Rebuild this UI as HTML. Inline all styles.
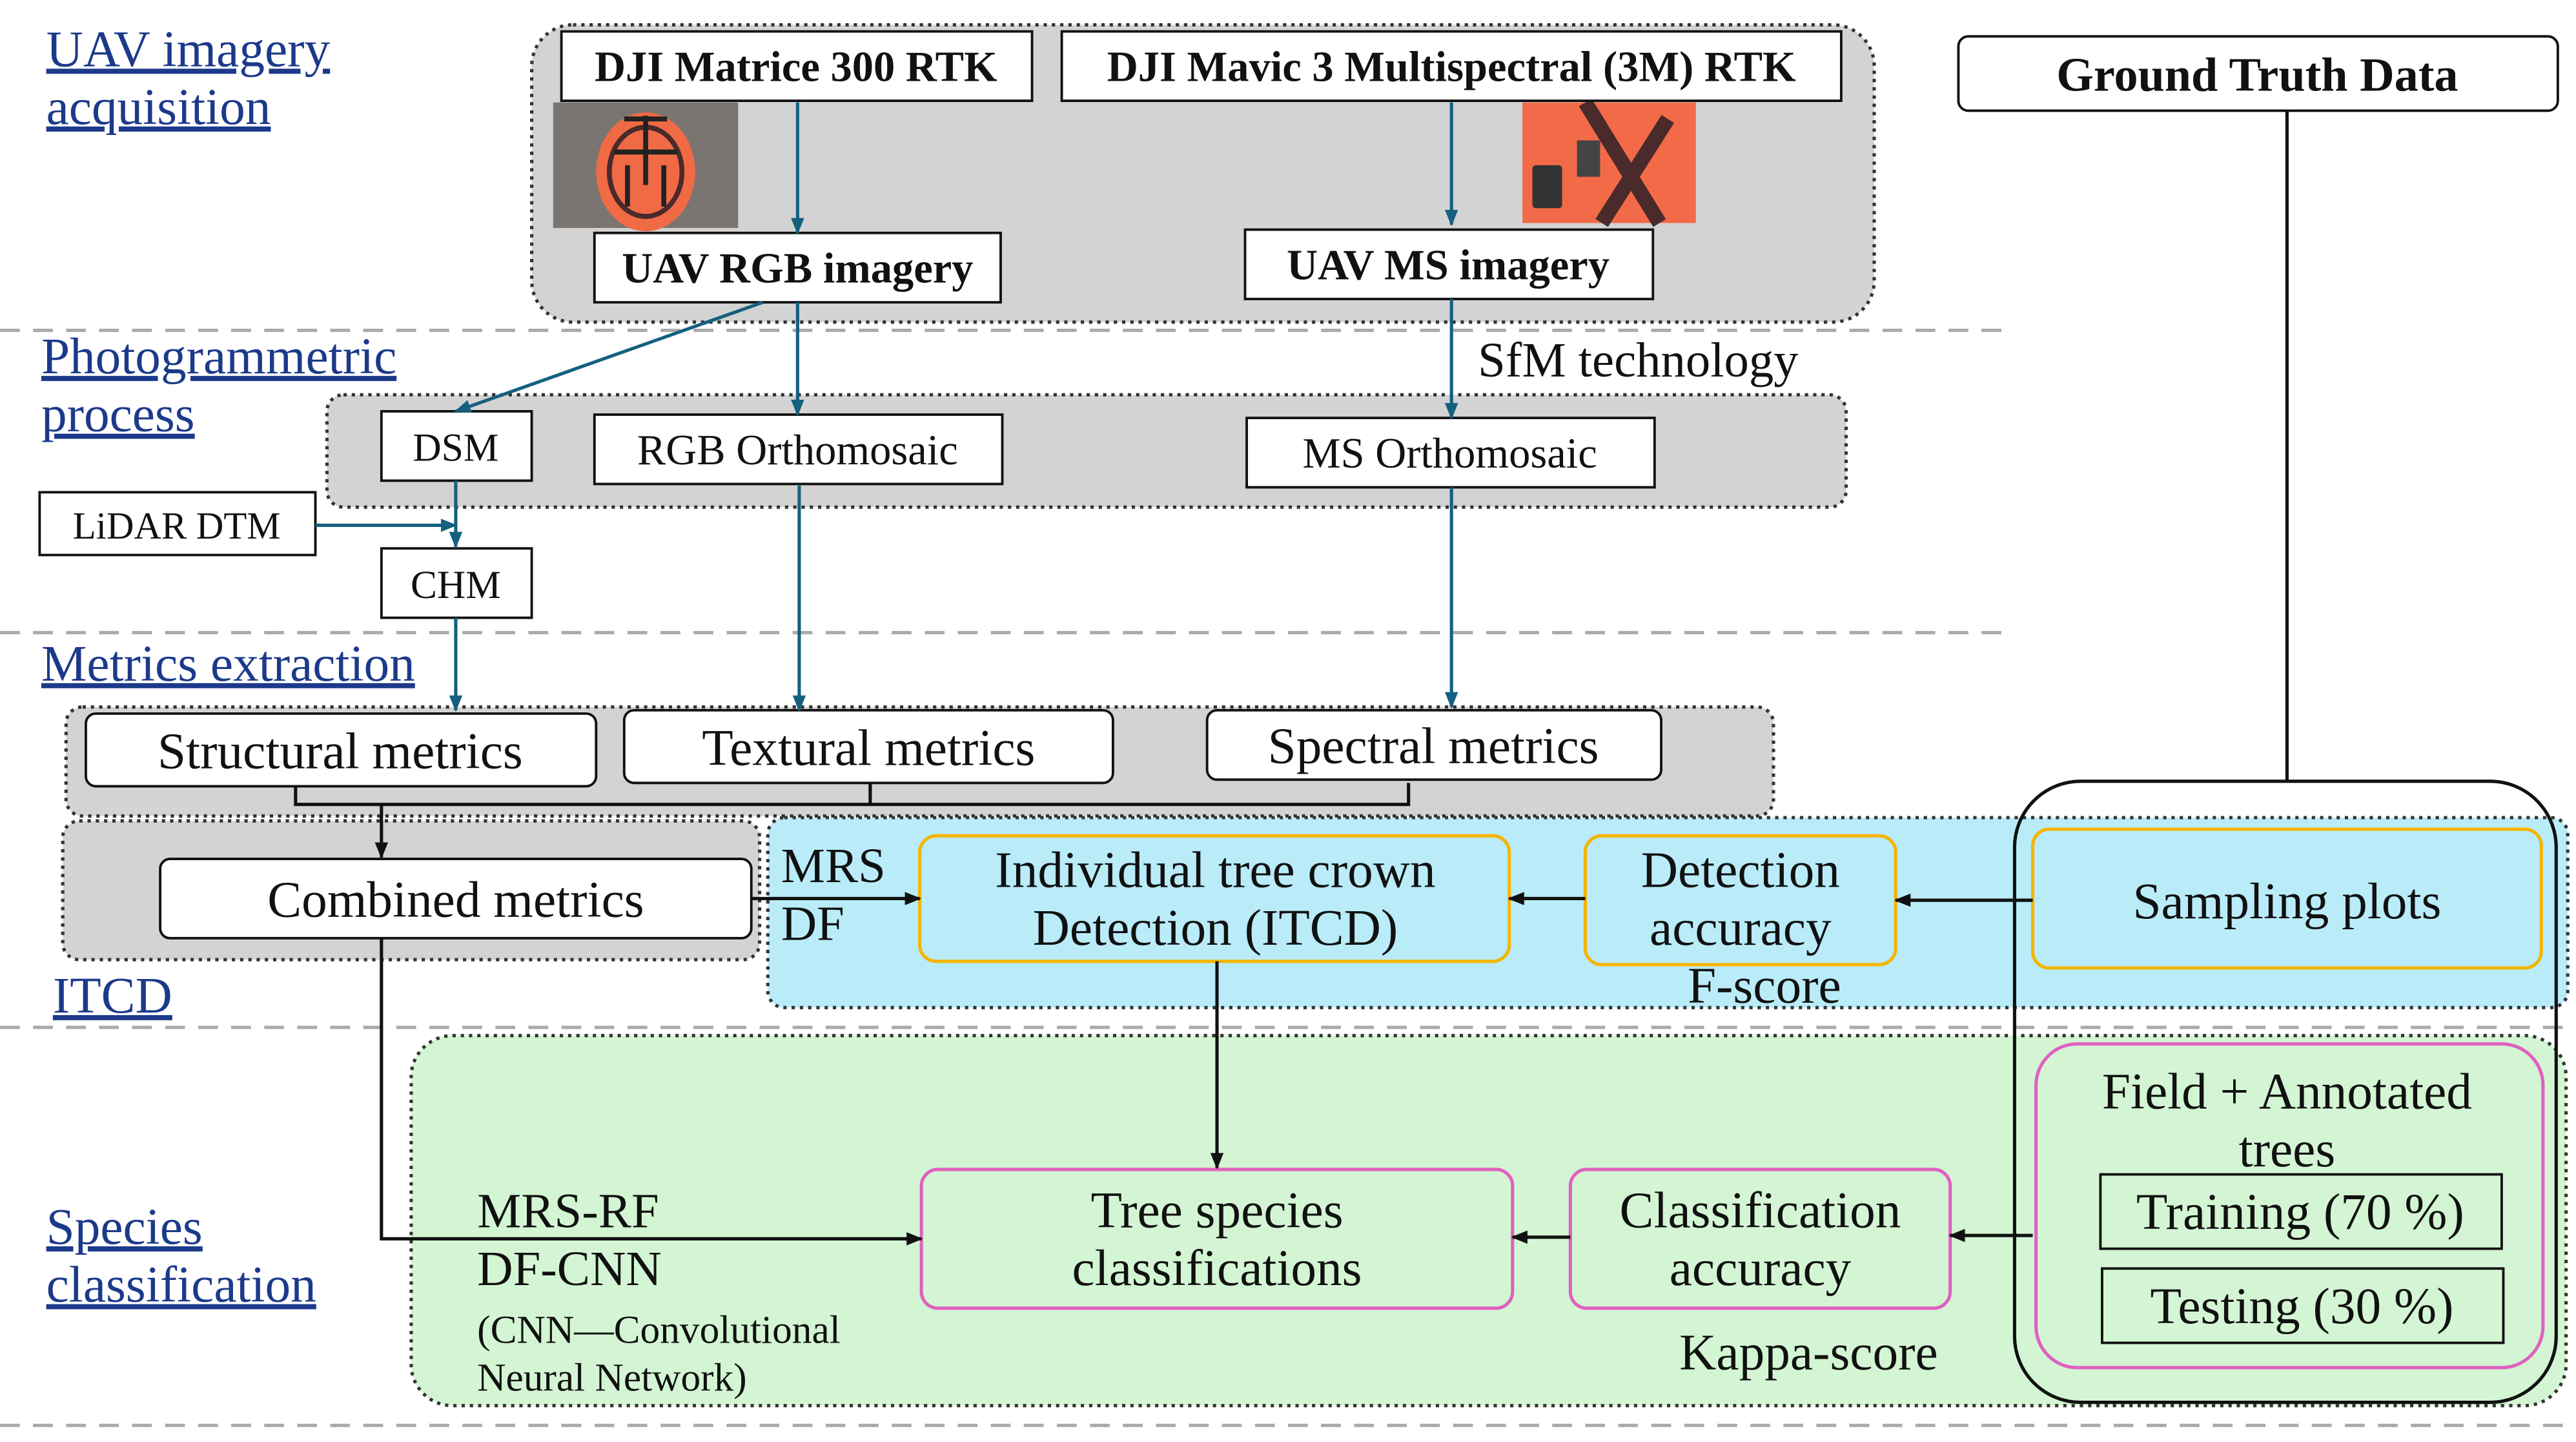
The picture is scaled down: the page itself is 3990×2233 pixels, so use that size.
<!DOCTYPE html>
<html><head><meta charset="utf-8"><style>
html,body{margin:0;padding:0;background:#fff}
svg{display:block}
text{font-family:"Liberation Serif",serif;fill:#111}
.sec{fill:#1c3a8a;font-size:31px;text-decoration:underline}
.b{fill:#fff;stroke:#111;stroke-width:1.5}
.g{fill:#d3d3d3;stroke:#333;stroke-width:2;stroke-dasharray:2 3}
.bl{stroke:#14607f;stroke-width:2;fill:none}
.bk{stroke:#111;stroke-width:2;fill:none}
.dash{stroke:#aaa;stroke-width:2;stroke-dasharray:12 8}
</style></head><body>
<svg width="3990" height="2233" viewBox="0 0 1560 873" xmlns="http://www.w3.org/2000/svg">
<defs>
<marker id="ab" markerWidth="10" markerHeight="10" refX="9" refY="5" orient="auto" markerUnits="userSpaceOnUse"><path d="M0,1 L10,5 L0,9 z" fill="#14607f"/></marker>
<marker id="ak" markerWidth="10" markerHeight="10" refX="9" refY="5" orient="auto" markerUnits="userSpaceOnUse"><path d="M0,1 L10,5 L0,9 z" fill="#111"/></marker>
</defs>
<line class="dash" x1="0" y1="200" x2="1220" y2="200"/>
<line class="dash" x1="0" y1="383" x2="1215" y2="383"/>
<line class="dash" x1="0" y1="622" x2="1555" y2="622"/>
<line class="dash" x1="0" y1="863" x2="1555" y2="863"/>

<rect class="g" x="322" y="15" width="813" height="180" rx="25"/>
<rect class="g" x="198" y="239" width="920" height="68" rx="10"/>
<rect class="g" x="40" y="428" width="1034" height="66" rx="10"/>
<rect class="g" x="38" y="497" width="422" height="84" rx="10"/>
<rect x="465" y="495" width="1090" height="115" rx="10" fill="#b9ecf8" stroke="#333" stroke-width="2" stroke-dasharray="2 3"/>
<rect x="249" y="627" width="1305" height="224" rx="25" fill="#d3f5d3" stroke="#333" stroke-width="2" stroke-dasharray="2 3"/>

<text class="sec" x="28" y="40">UAV imagery</text>
<text class="sec" x="28" y="75">acquisition</text>
<text class="sec" x="25" y="226">Photogrammetric</text>
<text class="sec" x="25" y="261">process</text>
<text class="sec" x="25" y="412">Metrics extraction</text>
<text class="sec" x="32" y="613">ITCD</text>
<text class="sec" x="28" y="753">Species</text>
<text class="sec" x="28" y="788">classification</text>

<!-- photos -->
<rect x="335" y="62" width="112" height="76" fill="#7a7570"/>
<ellipse cx="391" cy="104" rx="30" ry="36" fill="#f06a45"/>
<ellipse cx="391" cy="104" rx="22" ry="27" fill="none" stroke="#4a2a2a" stroke-width="3"/>
<path d="M378,72 L404,72 M372,92 L410,92 M391,70 L391,112 M380,100 L380,125 M402,100 L402,125" stroke="#222" stroke-width="3"/>
<rect x="922" y="62" width="105" height="73" fill="#f36a48"/>
<path d="M960,62 L1005,135 M1010,72 L970,135" stroke="#4a2a2a" stroke-width="9"/>
<rect x="928" y="100" width="18" height="26" rx="2" fill="#333"/>
<rect x="955" y="85" width="14" height="22" fill="#444"/>

<rect class="b" x="340" y="19" width="285" height="42"/>
<text x="482" y="49" font-size="26" font-weight="bold" text-anchor="middle">DJI Matrice 300 RTK</text>
<rect class="b" x="643" y="19" width="472" height="42"/>
<text x="879" y="49" font-size="26" font-weight="bold" text-anchor="middle">DJI Mavic 3 Multispectral (3M) RTK</text>
<rect class="b" x="360" y="141" width="246" height="42"/>
<text x="483" y="171" font-size="26" font-weight="bold" text-anchor="middle">UAV RGB imagery</text>
<rect class="b" x="754" y="139" width="247" height="42"/>
<text x="877" y="169" font-size="26" font-weight="bold" text-anchor="middle">UAV MS imagery</text>
<text x="895" y="228" font-size="30">SfM technology</text>

<rect class="b" x="231" y="249" width="91" height="42"/>
<text x="276" y="279" font-size="24" text-anchor="middle">DSM</text>
<rect class="b" x="360" y="251" width="247" height="42"/>
<text x="483" y="281" font-size="26" text-anchor="middle">RGB Orthomosaic</text>
<rect class="b" x="755" y="253" width="247" height="42"/>
<text x="878" y="283" font-size="26" text-anchor="middle">MS Orthomosaic</text>
<rect class="b" x="24" y="298" width="167" height="38"/>
<text x="107" y="326" font-size="23" text-anchor="middle">LiDAR DTM</text>
<rect class="b" x="231" y="332" width="91" height="42"/>
<text x="276" y="362" font-size="24" text-anchor="middle">CHM</text>

<rect class="b" x="52" y="432" width="309" height="44" rx="6" stroke-width="2"/>
<text x="206" y="465" font-size="31" text-anchor="middle">Structural metrics</text>
<rect class="b" x="378" y="430" width="296" height="44" rx="6" stroke-width="2"/>
<text x="526" y="463" font-size="31" text-anchor="middle">Textural metrics</text>
<rect class="b" x="731" y="430" width="275" height="42" rx="6" stroke-width="2"/>
<text x="868" y="462" font-size="31" text-anchor="middle">Spectral metrics</text>
<rect class="b" x="97" y="520" width="358" height="48" rx="6" stroke-width="2"/>
<text x="276" y="555" font-size="31" text-anchor="middle">Combined metrics</text>

<rect x="557" y="506" width="357" height="76" rx="10" fill="none" stroke="#f5b400" stroke-width="2"/>
<text x="736" y="537" font-size="31" text-anchor="middle">Individual tree crown</text>
<text x="736" y="572" font-size="31" text-anchor="middle">Detection (ITCD)</text>
<rect x="960" y="506" width="188" height="78" rx="10" fill="none" stroke="#f5b400" stroke-width="2"/>
<text x="1054" y="537" font-size="31" text-anchor="middle">Detection</text>
<text x="1054" y="572" font-size="31" text-anchor="middle">accuracy</text>
<rect x="1231" y="502" width="308" height="84" rx="10" fill="#b9ecf8" stroke="#f5b400" stroke-width="2"/>
<text x="1385" y="556" font-size="31" text-anchor="middle">Sampling plots</text>
<text x="1022" y="607" font-size="31">F-score</text>
<text x="473" y="534" font-size="30">MRS</text>
<text x="473" y="569" font-size="30">DF</text>

<rect class="b" x="1186" y="22" width="363" height="45" rx="6" stroke-width="2"/>
<text x="1367" y="55" font-size="29" font-weight="bold" text-anchor="middle">Ground Truth Data</text>
<line class="bk" x1="1385" y1="67" x2="1385" y2="473"/>
<rect x="1220" y="473" width="328" height="376" rx="40" fill="none" stroke="#111" stroke-width="2"/>
<rect x="1233" y="632" width="307" height="196" rx="25" fill="none" stroke="#e060c0" stroke-width="2"/>
<text x="1385" y="671" font-size="31" text-anchor="middle">Field + Annotated</text>
<text x="1385" y="706" font-size="31" text-anchor="middle">trees</text>
<rect x="1272" y="711" width="243" height="45" fill="none" stroke="#111" stroke-width="1.5"/>
<text x="1393" y="744" font-size="31" text-anchor="middle">Training (70 %)</text>
<rect x="1273" y="768" width="243" height="45" fill="none" stroke="#111" stroke-width="1.5"/>
<text x="1394" y="801" font-size="31" text-anchor="middle">Testing (30 %)</text>

<rect x="558" y="708" width="358" height="84" rx="10" fill="none" stroke="#e060c0" stroke-width="2"/>
<text x="737" y="743" font-size="31" text-anchor="middle">Tree species</text>
<text x="737" y="778" font-size="31" text-anchor="middle">classifications</text>
<rect x="951" y="708" width="230" height="84" rx="10" fill="none" stroke="#e060c0" stroke-width="2"/>
<text x="1066" y="743" font-size="31" text-anchor="middle">Classification</text>
<text x="1066" y="778" font-size="31" text-anchor="middle">accuracy</text>
<text x="1017" y="829" font-size="31">Kappa-score</text>
<text x="289" y="743" font-size="30">MRS-RF</text>
<text x="289" y="778" font-size="30">DF-CNN</text>
<text x="289" y="813" font-size="24">(CNN—Convolutional</text>
<text x="289" y="842" font-size="24">Neural Network)</text>

<!-- blue arrows -->
<line class="bl" x1="483" y1="62" x2="483" y2="141" marker-end="url(#ab)"/>
<line class="bl" x1="879" y1="62" x2="879" y2="136" marker-end="url(#ab)"/>
<line class="bl" x1="462" y1="183" x2="276" y2="249" marker-end="url(#ab)"/>
<line class="bl" x1="483" y1="183" x2="483" y2="251" marker-end="url(#ab)"/>
<line class="bl" x1="879" y1="181" x2="879" y2="253" marker-end="url(#ab)"/>
<line class="bl" x1="276" y1="291" x2="276" y2="331" marker-end="url(#ab)"/>
<line class="bl" x1="191" y1="318" x2="276" y2="318" marker-end="url(#ab)"/>
<line class="bl" x1="276" y1="374" x2="276" y2="430" marker-end="url(#ab)"/>
<line class="bl" x1="484" y1="294" x2="484" y2="430" marker-end="url(#ab)"/>
<line class="bl" x1="879" y1="295" x2="879" y2="428" marker-end="url(#ab)"/>

<!-- black -->
<path class="bk" d="M179,476 V487 H853 V474 M527,474 V487"/>
<line class="bk" x1="231" y1="487" x2="231" y2="519" marker-end="url(#ak)"/>
<line class="bk" x1="455" y1="544" x2="557" y2="544" marker-end="url(#ak)"/>
<line class="bk" x1="960" y1="544" x2="914" y2="544" marker-end="url(#ak)"/>
<line class="bk" x1="1231" y1="545" x2="1148" y2="545" marker-end="url(#ak)"/>
<line class="bk" x1="737" y1="582" x2="737" y2="707" marker-end="url(#ak)"/>
<path class="bk" d="M231,568 V750 H558" marker-end="url(#ak)"/>
<line class="bk" x1="1231" y1="748" x2="1181" y2="748" marker-end="url(#ak)"/>
<line class="bk" x1="951" y1="749" x2="916" y2="749" marker-end="url(#ak)"/>
</svg>
</body></html>
